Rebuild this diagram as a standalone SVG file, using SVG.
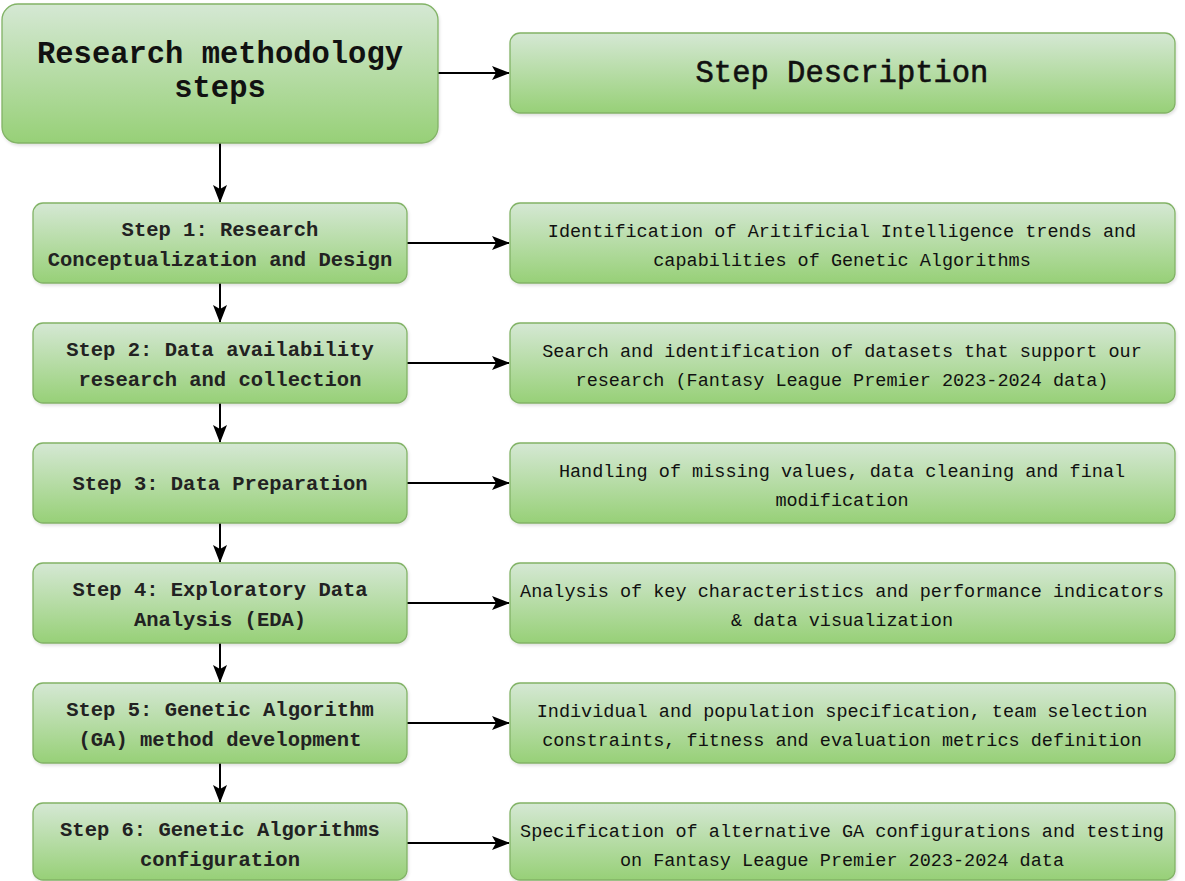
<svg xmlns="http://www.w3.org/2000/svg" width="1185" height="881" viewBox="0 0 1185 881">
  <defs>
    <linearGradient id="greenFill" x1="0" y1="0" x2="0" y2="1">
      <stop offset="0" stop-color="#d5e8d4"/>
      <stop offset="1" stop-color="#97d077"/>
    </linearGradient>
    <marker id="arrow" viewBox="0 0 18 14" refX="17" refY="7" markerWidth="18" markerHeight="14" markerUnits="userSpaceOnUse" orient="auto">
      <path d="M0,0 L18,7 L0,14 L4,7 Z" fill="#000"/>
    </marker>
    <filter id="shadow" x="-5%" y="-5%" width="112%" height="120%">
      <feDropShadow dx="1" dy="2" stdDeviation="1.5" flood-color="#000" flood-opacity="0.12"/>
    </filter>
  </defs>
  <style>
    .box { fill: url(#greenFill); stroke: #82b366; stroke-width: 1.3; filter: url(#shadow); }
    .title { font-family: "Liberation Mono", "Courier New", monospace; font-size: 30.5px; font-weight: bold; fill: #111; text-anchor: middle; }
    .subtitle { font-family: "Liberation Mono", "Courier New", monospace; font-size: 30.5px; font-weight: normal; fill: #111; stroke: #111; stroke-width: 0.6; text-anchor: middle; }
    .step { font-family: "Liberation Mono", "Courier New", monospace; font-size: 20.5px; font-weight: bold; fill: #222; text-anchor: middle; }
    .desc { font-family: "Liberation Mono", "Courier New", monospace; font-size: 18.5px; fill: #111; text-anchor: middle; }
    .conn { stroke: #000; stroke-width: 2; fill: none; marker-end: url(#arrow); }
  </style>

  <g id="connectors">
    <line class="conn" x1="438" y1="73" x2="509" y2="73"/>
    <line class="conn" x1="220" y1="143" x2="220" y2="202"/>
    <line class="conn" x1="407" y1="243" x2="509" y2="243"/>
    <line class="conn" x1="220" y1="283" x2="220" y2="322"/>
    <line class="conn" x1="407" y1="363" x2="509" y2="363"/>
    <line class="conn" x1="220" y1="403" x2="220" y2="442"/>
    <line class="conn" x1="407" y1="483" x2="509" y2="483"/>
    <line class="conn" x1="220" y1="523" x2="220" y2="562"/>
    <line class="conn" x1="407" y1="603" x2="509" y2="603"/>
    <line class="conn" x1="220" y1="643" x2="220" y2="682"/>
    <line class="conn" x1="407" y1="723" x2="509" y2="723"/>
    <line class="conn" x1="220" y1="763" x2="220" y2="802"/>
    <line class="conn" x1="407" y1="843" x2="509" y2="843"/>
  </g>

  <g id="header">
    <rect class="box" x="2" y="4" width="436" height="139" rx="16"/>
    <text class="title" x="220" y="63">Research methodology</text>
    <text class="title" x="220" y="97">steps</text>
  </g>

  <g id="header-desc">
    <rect class="box" x="510" y="33" width="665" height="80" rx="10"/>
    <text class="subtitle" x="842" y="82">Step Description</text>
  </g>

  <g id="step1">
    <rect class="box" x="33" y="203" width="374" height="80" rx="10"/>
    <text class="step" x="220" y="236">Step 1: Research</text>
    <text class="step" x="220" y="266">Conceptualization and Design</text>
  </g>
  <g id="desc1">
    <rect class="box" x="510" y="203" width="665" height="80" rx="10"/>
    <text class="desc" x="842" y="237">Identification of Aritificial Intelligence trends and</text>
    <text class="desc" x="842" y="266">capabilities of Genetic Algorithms</text>
  </g>

  <g id="step2">
    <rect class="box" x="33" y="323" width="374" height="80" rx="10"/>
    <text class="step" x="220" y="356">Step 2: Data availability</text>
    <text class="step" x="220" y="386">research and collection</text>
  </g>
  <g id="desc2">
    <rect class="box" x="510" y="323" width="665" height="80" rx="10"/>
    <text class="desc" x="842" y="357">Search and identification of datasets that support our</text>
    <text class="desc" x="842" y="386">research (Fantasy League Premier 2023-2024 data)</text>
  </g>

  <g id="step3">
    <rect class="box" x="33" y="443" width="374" height="80" rx="10"/>
    <text class="step" x="220" y="490">Step 3: Data Preparation</text>
  </g>
  <g id="desc3">
    <rect class="box" x="510" y="443" width="665" height="80" rx="10"/>
    <text class="desc" x="842" y="477">Handling of missing values, data cleaning and final</text>
    <text class="desc" x="842" y="506">modification</text>
  </g>

  <g id="step4">
    <rect class="box" x="33" y="563" width="374" height="80" rx="10"/>
    <text class="step" x="220" y="596">Step 4: Exploratory Data</text>
    <text class="step" x="220" y="626">Analysis (EDA)</text>
  </g>
  <g id="desc4">
    <rect class="box" x="510" y="563" width="665" height="80" rx="10"/>
    <text class="desc" x="842" y="597">Analysis of key characteristics and performance indicators</text>
    <text class="desc" x="842" y="626">&amp; data visualization</text>
  </g>

  <g id="step5">
    <rect class="box" x="33" y="683" width="374" height="80" rx="10"/>
    <text class="step" x="220" y="716">Step 5: Genetic Algorithm</text>
    <text class="step" x="220" y="746">(GA) method development</text>
  </g>
  <g id="desc5">
    <rect class="box" x="510" y="683" width="665" height="80" rx="10"/>
    <text class="desc" x="842" y="717">Individual and population specification, team selection</text>
    <text class="desc" x="842" y="746">constraints, fitness and evaluation metrics definition</text>
  </g>

  <g id="step6">
    <rect class="box" x="33" y="803" width="374" height="77" rx="10"/>
    <text class="step" x="220" y="836">Step 6: Genetic Algorithms</text>
    <text class="step" x="220" y="866">configuration</text>
  </g>
  <g id="desc6">
    <rect class="box" x="510" y="803" width="665" height="77" rx="10"/>
    <text class="desc" x="842" y="837">Specification of alternative GA configurations and testing</text>
    <text class="desc" x="842" y="866">on Fantasy League Premier 2023-2024 data</text>
  </g>
</svg>
